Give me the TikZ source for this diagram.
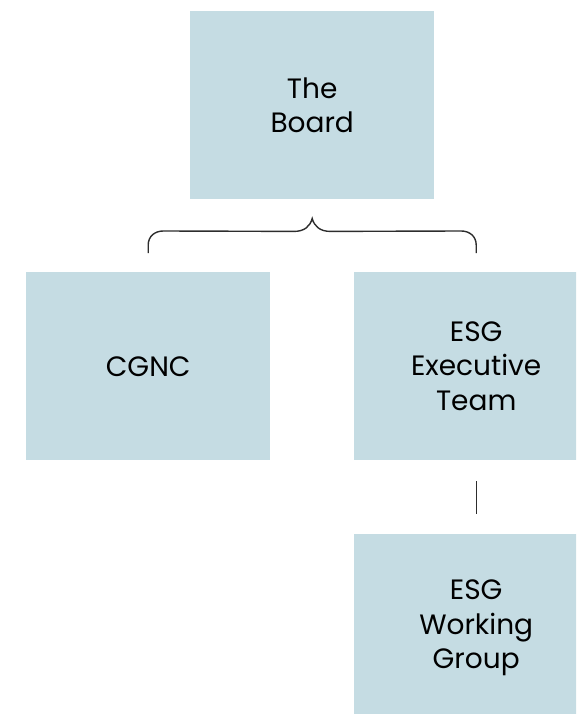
\documentclass[tikz,border=0pt]{standalone}
\usepackage{fontspec}
\setmainfont{Poppins}
\usetikzlibrary{calc}
\definecolor{boxfill}{RGB}{197,220,227}
\definecolor{linkgrey}{RGB}{45,45,45}
\begin{document}
\begin{tikzpicture}[x=1pt,y=-1pt,
  orgbox/.style={fill=boxfill, minimum width=244pt, minimum height=188pt,
    inner sep=0pt, align=center, anchor=north west,
    font=\fontsize{28}{34.5}\selectfont},
  link/.style={draw=linkgrey, line width=1.4pt}]
\useasboundingbox (0,0) rectangle (576,714);
\clip (0,0) rectangle (576,714);

% boxes
\node[orgbox] (board) at (190,11)  {The\\Board};
\node[orgbox] (cgnc)  at (26,272)  {CGNC};
\node[orgbox] (exec)  at (354,272) {ESG\\Executive\\Team};
\node[orgbox] (wg)    at (354,534) {ESG\\Working\\Group};

% brace from the board to its two committees
\coordinate (tip) at ($(board.south)+(0,19)$);
\coordinate (bl)  at ($(cgnc.north)+(0,-19)$);
\coordinate (br)  at ($(exec.north)+(0,-19)$);
\draw[link] (bl) -- ++(0,-8)
  .. controls +(0,-9) and +(-8,0) .. ++(15,-14)
  -- ($(tip)+(-18,13)$)
  .. controls +(10,0) and +(-2,8) .. (tip)
  .. controls +(2,8) and +(-10,0) .. ($(tip)+(18,13)$)
  -- ($(br)+(-15,-22)$)
  .. controls +(8,0) and +(0,-9) .. ($(br)+(0,-8)$)
  -- (br);

% executive team to working group
\draw[link] ($(exec.south)+(0,21)$) -- ($(wg.north)+(0,-20)$);
\end{tikzpicture}
\end{document}
